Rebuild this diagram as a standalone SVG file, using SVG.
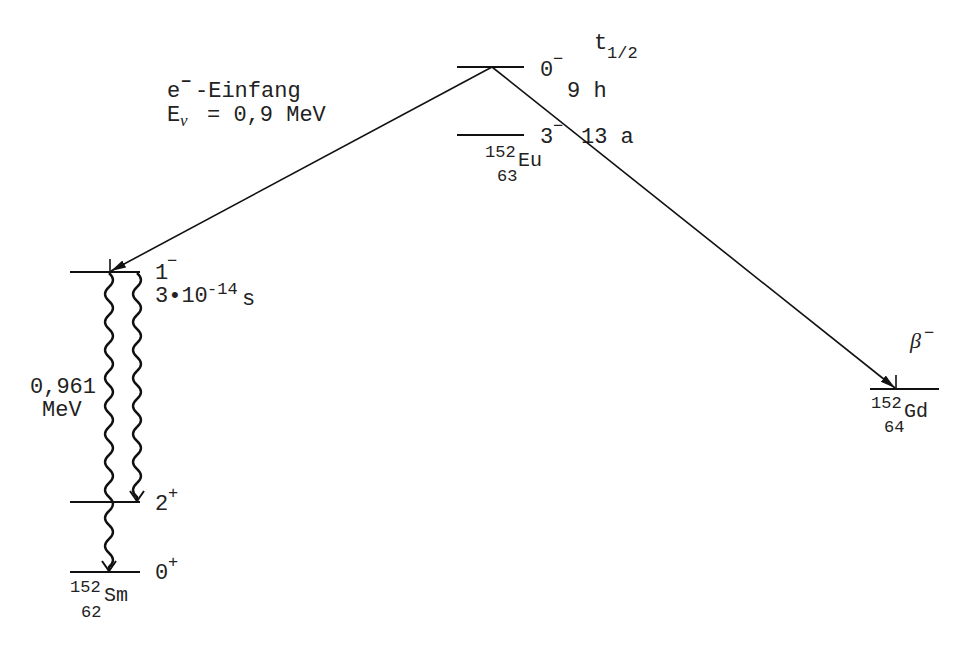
<svg xmlns="http://www.w3.org/2000/svg" width="964" height="647" viewBox="0 0 964 647">
<style>
.t{font-family:"Liberation Mono","DejaVu Sans Mono",monospace;font-size:22px;fill:#222}
.s{font-size:17px}
.lv{stroke:#111;stroke-width:1.8;fill:none}
.ar{stroke:#111;stroke-width:1.6;fill:none}
.wv{stroke:#111;stroke-width:2.4;fill:none}
</style>
<defs>
<marker id="vh" markerWidth="14" markerHeight="16" refX="12" refY="8" orient="auto" markerUnits="userSpaceOnUse" viewBox="0 0 14 16">
<path d="M2,1 L12,8 L2,15" stroke="#111" stroke-width="2" fill="none"/>
</marker>
<marker id="fh" markerWidth="16" markerHeight="10" refX="15" refY="5" orient="auto" markerUnits="userSpaceOnUse" viewBox="0 0 16 10">
<path d="M0,1 L15,5 L0,9 Z" fill="#111"/>
</marker>
</defs>
<rect width="964" height="647" fill="#fff"/>
<g id="eu152">
<line class="lv" x1="457" y1="67" x2="524" y2="67"/>
<line class="lv" x1="457" y1="135" x2="524" y2="135"/>
<text class="t" x="540" y="76">0<tspan class="s" x="553" y="64">−</tspan></text>
<text class="t" x="594" y="49">t<tspan class="s" x="607" y="58">1/2</tspan></text>
<text class="t" x="567" y="97">9 h</text>
<text class="t" x="540" y="143">3<tspan class="s" x="553" y="131">−</tspan><tspan x="581" y="143">13 a</tspan></text>
<text class="t" x="485" y="157"><tspan class="s">152</tspan><tspan x="518" y="166" style="font-size:20px">Eu</tspan></text>
<text class="t s" x="497" y="181">63</text>
</g>
<g id="sm152">
<line class="lv" x1="70" y1="272" x2="140" y2="272"/>
<line class="lv" x1="70" y1="502" x2="140" y2="502"/>
<line class="lv" x1="70" y1="572" x2="140" y2="572"/>
<text class="t" x="155" y="279">1<tspan class="s" x="167" y="266">−</tspan></text>
<text class="t" x="155" y="302">3•10<tspan class="s" x="207" y="294">-14</tspan><tspan x="242" y="305">s</tspan></text>
<text class="t" x="155" y="510">2<tspan class="s" x="168" y="498">+</tspan></text>
<text class="t" x="155" y="579">0<tspan class="s" x="168" y="567">+</tspan></text>
<text class="t" x="70" y="592"><tspan class="s">152</tspan><tspan x="104" y="601" style="font-size:20px">Sm</tspan></text>
<text class="t s" x="81" y="617">62</text>
<text class="t" x="30" y="393">0,961</text>
<text class="t" x="42" y="416">MeV</text>
</g>
<g id="gd152">
<line class="lv" x1="870" y1="389" x2="939" y2="389"/>
<text class="t" x="910" y="348" style="font-family:'Liberation Serif',serif;font-style:italic">β<tspan class="s" x="924" y="338" style="font-family:'Liberation Mono',monospace;font-style:normal">−</tspan></text>
<text class="t" x="871" y="408"><tspan class="s">152</tspan><tspan x="904" y="417" style="font-size:20px">Gd</tspan></text>
<text class="t s" x="884" y="432">64</text>
</g>
<g id="ec-label">
<text class="t" x="167" y="97">e<tspan class="s" x="181" y="87" style="font-weight:bold">−</tspan><tspan x="195" y="97">-Einfang</tspan></text>
<text class="t" x="167" y="121">E<tspan x="180" y="126" style="font-family:'Liberation Serif',serif;font-style:italic;font-size:17px">ν</tspan><tspan x="207" y="121">= 0,9 MeV</tspan></text>
</g>
<g id="connectors">
<line class="ar" x1="492" y1="67" x2="111" y2="271" marker-end="url(#fh)"/>
<line class="ar" x1="110" y1="259" x2="110" y2="273"/>
<line class="ar" x1="492" y1="67" x2="895" y2="388" marker-end="url(#fh)"/>
<line class="ar" x1="896" y1="375" x2="896" y2="389"/>
<path class="wv" d="M109,273 q8,7 0,14 t0,14 t0,14 t0,14 t0,14 t0,14 t0,14 t0,14 t0,14 t0,14 t0,14 t0,14 t0,14 t0,14 t0,14 t0,14 t0,14 t0,14 t0,14 t0,14 t0,14 L109,571" marker-end="url(#vh)"/>
<path class="wv" d="M137,273 q8,7 0,14 t0,14 t0,14 t0,14 t0,14 t0,14 t0,14 t0,14 t0,14 t0,14 t0,14 t0,14 t0,14 t0,14 t0,14 t0,14 L137,501" marker-end="url(#vh)"/>
</g>
</svg>
